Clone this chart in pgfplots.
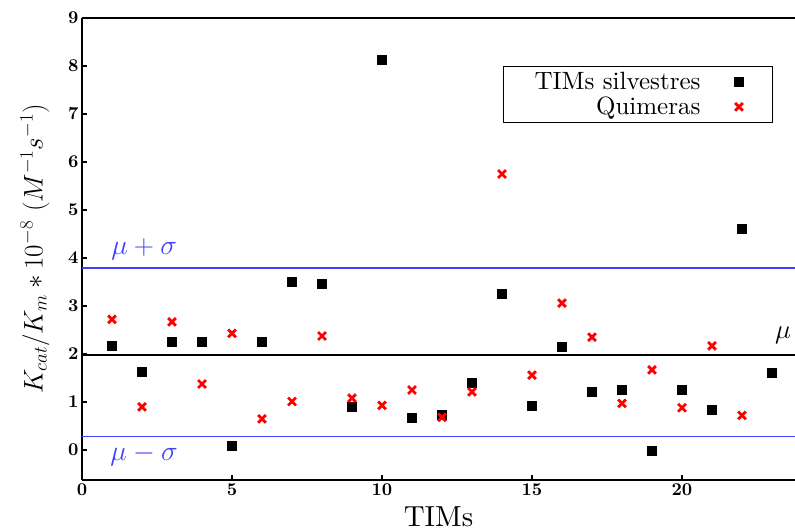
\RequirePackage{fix-cm}
\documentclass[border=0pt]{standalone}
\usepackage{fontspec}
\setmainfont{lmroman10-regular.otf}[BoldFont=lmroman10-bold.otf, ItalicFont=lmroman10-italic.otf, BoldItalicFont=lmroman10-bolditalic.otf]
\usepackage{pgfplots}
\pgfplotsset{compat=1.18}
\definecolor{lineblue}{rgb}{0.25,0.25,1}
\begin{document}
\begin{tikzpicture}
\begin{axis}[
  scale only axis,
  width=713pt, height=462pt,
  xmin=0, xmax=23.767, ymin=-0.625, ymax=9,
  axis x line*=box, axis y line*=left,
  axis line style={line width=2.2pt},
  xtick={0,5,10,15,20}, ytick={0,1,...,9},
  xtick pos=bottom, ytick pos=left,
  tick align=inside, major tick length=5pt,
  tick style={line width=1.2pt, black},
  /pgf/number format/assume math mode=true,
  xticklabel={\fontsize{18}{21}\selectfont\bfseries\pgfmathprintnumber{\tick}},
  yticklabel={\fontsize{18}{21}\selectfont\bfseries\pgfmathprintnumber{\tick}},
  xlabel={TIMs},
  xlabel style={font=\fontsize{29}{34}\selectfont, yshift=-4pt},
  ylabel={$K_{cat}/K_m * 10^{-8}\ (M^{-1}s^{-1})$},
  ylabel style={font=\fontsize{27}{31}\selectfont, yshift=12pt},
  legend style={at={(axis cs:23.03,8.0)}, anchor=north east,
    font=\fontsize{25}{29}\selectfont, draw=black, line width=0.8pt,
    inner xsep=29pt, inner ysep=4pt, row sep=2pt,
    /tikz/every odd column/.style={column sep=32pt}},
  legend plot pos=right,
  legend cell align=right,
]
\addplot[only marks, mark=square*, mark size=4.5pt, black, mark options={line width=0pt}] coordinates {
(1,2.16) (2,1.62) (3,2.24) (4,2.24) (5,0.08) (6,2.26) (7,3.49) (8,3.46)
(9,0.89) (10,8.13) (11,0.66) (12,0.72) (13,1.39) (14,3.26) (15,0.92)
(16,2.14) (17,1.20) (18,1.24) (19,-0.03) (20,1.24) (21,0.83) (22,4.60) (23,1.60)
};
\addlegendentry{TIMs silvestres}
\addplot[only marks, mark=x, mark size=5.5pt, red, line width=2.8pt] coordinates {
(1,2.72) (2,0.90) (3,2.67) (4,1.375) (5,2.43) (6,0.65) (7,1.01) (8,2.375)
(9,1.08) (10,0.93) (11,1.25) (12,0.68) (13,1.21) (14,5.75) (15,1.56)
(16,3.06) (17,2.35) (18,0.97) (19,1.67) (20,0.88) (21,2.17) (22,0.72)
};
\addlegendentry{Quimeras}
\addplot[lineblue, line width=1.3pt, forget plot] coordinates {(0,3.79) (23.767,3.79)};
\addplot[black, line width=1.1pt, forget plot] coordinates {(0,1.98) (23.767,1.98)};
\addplot[lineblue, line width=1.3pt, forget plot] coordinates {(0,0.28) (23.767,0.28)};
\node[lineblue, font=\fontsize{28}{32}\selectfont] at (axis cs:2.07,4.18) {$\mu+\sigma$};
\node[lineblue, font=\fontsize{28}{32}\selectfont] at (axis cs:2.07,-0.1) {$\mu-\sigma$};
\node[black, font=\fontsize{27}{32}\selectfont] at (axis cs:23.37,2.38) {$\mu$};
\end{axis}
\pgfresetboundingbox
\path ([xshift=-82pt,yshift=-51pt]current axis.south west) rectangle ([yshift=18pt]current axis.north east);
\end{tikzpicture}
\end{document}
